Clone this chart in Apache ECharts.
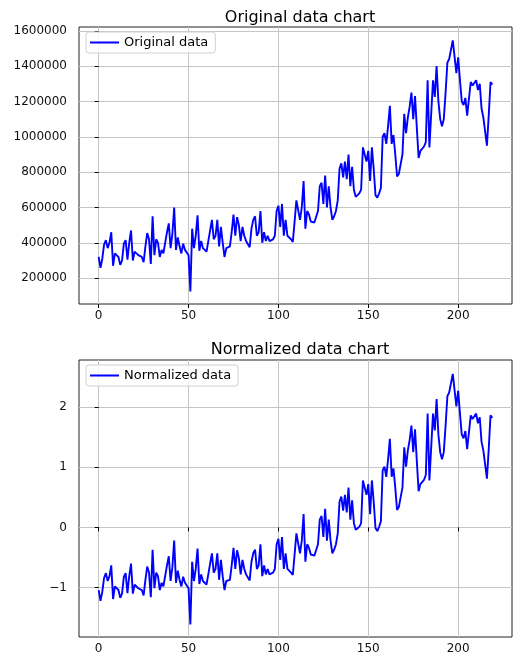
<!DOCTYPE html>
<html><head><meta charset="utf-8">
<script src="https://cdn.jsdelivr.net/npm/echarts@6/dist/echarts.min.js"></script>
<style>html,body{margin:0;padding:0;background:#fff}#c{width:513px;height:657px}</style>
</head><body><div id="c"></div>
<script>
const originalValues = [
320000,258000,310000,390000,415000,370000,400000,460000,270000,340000,
335000,320000,275000,300000,395000,415000,305000,400000,470000,300000,
350000,345000,330000,325000,320000,290000,380000,455000,420000,280000,
550000,330000,420000,400000,320000,360000,340000,340000,460000,510000,
370000,450000,600000,360000,430000,380000,340000,395000,360000,350000,
330000,125000,480000,370000,440000,555000,355000,410000,370000,360000,
350000,345000,470000,530000,420000,440000,530000,380000,490000,400000,
320000,370000,360000,380000,460000,560000,440000,545000,500000,410000,
490000,440000,410000,400000,375000,480000,530000,550000,440000,460000,
580000,400000,460000,410000,440000,410000,400000,420000,440000,580000,
610000,490000,620000,440000,530000,440000,430000,420000,405000,520000,
640000,630000,530000,600000,750000,480000,580000,560000,520000,515000,
515000,520000,580000,720000,740000,620000,780000,600000,720000,600000,
530000,550000,580000,640000,820000,850000,770000,860000,760000,900000,
720000,830000,700000,660000,665000,680000,700000,940000,950000,860000,
920000,750000,940000,820000,670000,655000,680000,710000,1000000,1020000,
960000,1060000,1175000,960000,1010000,900000,775000,790000,800000,900000,
1130000,1020000,1110000,1170000,1250000,1100000,1230000,1050000,880000,920000,
930000,945000,970000,1320000,940000,1130000,1320000,1225000,1400000,1200000,
1100000,1060000,1100000,1250000,1420000,1440000,1450000,1545000,1550000,1360000,
1450000,1320000,1200000,1180000,1220000,1120000,1130000,1310000,1290000,1280000,
1320000,1265000,1300000,1160000,1110000,1100000,950000,1120000,1310000,1295000];

const normalizedValues = [
-1.04,-1.22,-1.07,-0.84,-0.76,-0.89,-0.81,-0.63,-1.19,-0.98,
-1.00,-1.04,-1.17,-1.10,-0.82,-0.76,-1.09,-0.81,-0.60,-1.10,
-0.95,-0.97,-1.01,-1.03,-1.04,-1.13,-0.87,-0.65,-0.75,-1.16,
-0.37,-1.01,-0.75,-0.81,-1.04,-0.92,-0.98,-0.98,-0.63,-0.48,
-0.89,-0.66,-0.22,-0.92,-0.72,-0.87,-0.98,-0.82,-0.92,-0.95,
-1.01,-1.61,-0.57,-0.89,-0.69,-0.35,-0.94,-0.78,-0.89,-0.92,
-0.95,-0.97,-0.60,-0.43,-0.75,-0.69,-0.43,-0.87,-0.54,-0.81,
-1.04,-0.89,-0.92,-0.87,-0.63,-0.34,-0.69,-0.38,-0.51,-0.78,
-0.54,-0.69,-0.78,-0.81,-0.88,-0.57,-0.43,-0.37,-0.69,-0.63,
-0.28,-0.81,-0.63,-0.78,-0.69,-0.78,-0.81,-0.75,-0.69,-0.28,
-0.19,-0.54,-0.16,-0.69,-0.43,-0.69,-0.72,-0.75,-0.79,-0.45,
-0.10,-0.13,-0.43,-0.22,0.22,-0.57,-0.28,-0.34,-0.45,-0.47,
-0.47,-0.45,-0.28,0.13,0.19,-0.16,0.31,-0.22,0.13,-0.22,
-0.43,-0.37,-0.28,-0.10,0.43,0.51,0.28,0.54,0.25,0.66,
0.13,0.45,0.07,-0.04,-0.03,0.01,0.07,0.78,0.81,0.54,
0.72,0.22,0.78,0.43,-0.01,-0.06,0.01,0.10,0.95,1.01,
0.84,1.13,1.47,0.84,0.98,0.66,0.29,0.34,0.37,0.66,
1.33,1.01,1.28,1.45,1.69,1.25,1.63,1.10,0.60,0.72,
0.75,0.79,0.87,1.89,0.78,1.33,1.89,1.61,2.13,1.54,
1.25,1.13,1.25,1.69,2.18,2.24,2.27,2.55,2.57,2.01,
2.27,1.89,1.54,1.48,1.60,1.30,1.33,1.86,1.80,1.77,
1.89,1.73,1.83,1.42,1.28,1.25,0.81,1.30,1.86,1.82];

const xTicks = [0, 50, 100, 150, 200];
const originalYTicks = [200000, 400000, 600000, 800000, 1000000, 1200000, 1400000, 1600000];
const normalizedYTicks = [-1, 0, 1, 2];
const titles = ['Original data chart', 'Normalized data chart'];
const seriesNames = ['Original data', 'Normalized data'];

const FONT = 'DejaVu Sans';
const pairs = arr => arr.map((v, i) => [i, v]);
const gridLine = { show: true, lineStyle: { color: '#c6c6c6', width: 1 } };

function xAxis(gi) {
  return {
    type: 'value', gridIndex: gi, min: -10.95, max: 229.95,
    axisLine: { show: false },
    axisTick: { show: true, length: 4, lineStyle: { color: '#000' }, customValues: xTicks },
    axisLabel: { color: '#111', fontFamily: FONT, fontSize: 12, margin: 6, customValues: xTicks },
    splitLine: gridLine
  };
}
function yAxis(gi, min, max, ticks, fmt) {
  return {
    type: 'value', gridIndex: gi, min: min, max: max,
    axisLine: { show: false },
    axisTick: { show: true, length: 4, lineStyle: { color: '#000' }, customValues: ticks },
    axisLabel: { color: '#111', fontFamily: FONT, fontSize: 12, margin: 12, customValues: ticks, formatter: fmt },
    splitLine: gridLine
  };
}
const legendBase = {
  orient: 'horizontal', icon: 'rect', itemWidth: 29, itemHeight: 2, itemGap: 10,
  padding: [4, 7, 4, 4], backgroundColor: 'rgba(255,255,255,0.8)',
  borderColor: '#d0d0d0', borderWidth: 1, borderRadius: 3,
  textStyle: { color: '#000', fontFamily: FONT, fontSize: 13 }
};

const chart = echarts.init(document.getElementById('c'), null, { renderer: 'canvas' });
chart.setOption({
  animation: false,
  backgroundColor: '#fff',
  title: [
    { text: titles[0], left: 295, top: 5, textAlign: 'center', textStyle: { color: '#000', fontFamily: FONT, fontSize: 16, fontWeight: 'normal' } },
    { text: titles[1], left: 295, top: 337, textAlign: 'center', textStyle: { color: '#000', fontFamily: FONT, fontSize: 16, fontWeight: 'normal' } }
  ],
  legend: [
    Object.assign({}, legendBase, { left: 86, top: 32, data: [seriesNames[0]] }),
    Object.assign({}, legendBase, { left: 86, top: 365, data: [seriesNames[1]] })
  ],
  grid: [
    { left: 79, top: 27, width: 433, height: 277, show: true, borderColor: '#222', borderWidth: 1, backgroundColor: 'transparent' },
    { left: 79, top: 360, width: 433, height: 277, show: true, borderColor: '#222', borderWidth: 1, backgroundColor: 'transparent' }
  ],
  xAxis: [xAxis(0), xAxis(1)],
  yAxis: [
    yAxis(0, 53750, 1621250, originalYTicks, v => String(v)),
    yAxis(1, -1.82, 2.78, normalizedYTicks, v => (v < 0 ? '\u2212' + Math.abs(v) : String(v)))
  ],
  series: [
    { name: seriesNames[0], type: 'line', xAxisIndex: 0, yAxisIndex: 0, data: pairs(originalValues), symbol: 'none', lineStyle: { color: '#0000ff', width: 1.9 }, itemStyle: { color: '#0000ff' } },
    { name: seriesNames[1], type: 'line', xAxisIndex: 1, yAxisIndex: 1, data: pairs(normalizedValues), symbol: 'none', lineStyle: { color: '#0000ff', width: 1.9 }, itemStyle: { color: '#0000ff' } }
  ]
});
</script>
</body></html>
